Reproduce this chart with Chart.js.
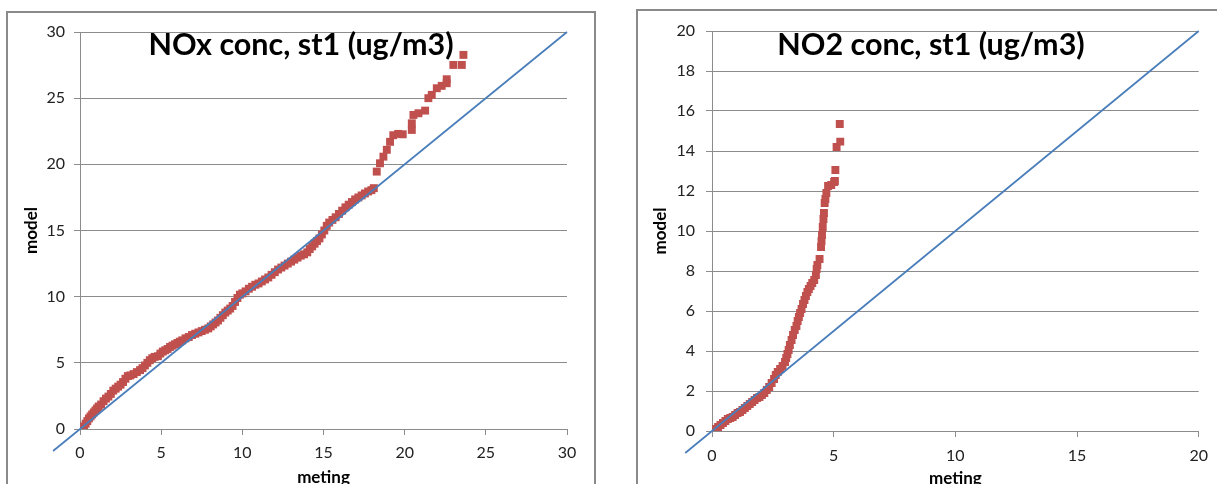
<!DOCTYPE html>
<html>
<head>
<meta charset="utf-8">
<title>NOx / NO2 st1</title>
<script src="https://cdn.jsdelivr.net/npm/chart.js@4.4.1/dist/chart.umd.min.js"></script>
<style>
  html, body { margin: 0; padding: 0; background: #fff; width: 1217px; height: 484px; overflow: hidden; }
  .frame { position: absolute; border: 2px solid #8a8a8a; box-sizing: border-box; }
  #frameNox { left: 6px; top: 11px; width: 590px; height: 530px; }
  #frameNo2 { left: 636px; top: 9px; width: 640px; height: 530px; }
  canvas { position: absolute; top: 0; }
  #noxChart { left: 0; }
  #no2Chart { left: 620px; }
  .title {
    position: absolute; top: 28px; transform: translateX(-50%);
    font-family: Lato, sans-serif; font-weight: bold; font-size: 30.5px; line-height: 30px;
    color: #000; white-space: nowrap;
  }
</style>
</head>
<body>
<div class="frame" id="frameNox"></div>
<div class="frame" id="frameNo2"></div>
<canvas id="noxChart" width="610" height="500"></canvas>
<canvas id="no2Chart" width="597" height="500"></canvas>
<div class="title" style="left:301px">NOx conc, st1 (ug/m3)</div>
<div class="title" style="left:931px">NO2 conc, st1 (ug/m3)</div>

<script>
// NOx station 1: sorted measured vs sorted modelled
const noxMeting = [0.15,0.25,0.35,0.45,0.55,0.65,0.75,0.85,0.95,1.05,1.15,1.3,1.45,1.6,1.75,1.9,2.05,2.2,2.35,2.5,
  2.65,2.8,2.95,3.1,3.3,3.5,3.7,3.85,4.0,4.15,4.3,4.45,4.6,4.8,4.95,5.1,5.25,5.4,5.55,5.7,
  5.85,6.0,6.15,6.3,6.5,6.7,6.9,7.1,7.3,7.5,7.7,7.9,8.05,8.2,8.35,8.5,8.65,8.8,8.95,9.1,
  9.25,9.4,9.55,9.7,9.85,10.0,10.2,10.4,10.6,10.8,11.0,11.2,11.4,11.6,11.8,12.0,12.2,12.4,12.6,12.8,
  13.0,13.2,13.4,13.6,13.8,14.0,14.15,14.3,14.45,14.6,14.75,14.9,15.05,15.2,15.35,15.55,15.75,15.95,16.15,16.35,
  16.55,16.75,16.95,17.15,17.35,17.55,17.75,17.95,18.1,
  18.28,18.48,18.69,18.9,19.1,19.3,19.6,19.88,20.44,20.44,20.54,20.85,21.26,21.46,21.67,21.98,22.28,22.59,22.59,23.0,
  23.52,23.62];
const noxModel = [0.05,0.2,0.4,0.6,0.8,0.95,1.1,1.25,1.4,1.55,1.7,1.85,2.1,2.3,2.45,2.65,2.9,3.05,3.2,3.35,
  3.55,3.8,4.0,4.05,4.15,4.3,4.45,4.6,4.8,5.0,5.2,5.35,5.45,5.5,5.7,5.85,5.95,6.05,6.2,6.3,
  6.4,6.5,6.6,6.7,6.85,6.95,7.1,7.2,7.3,7.4,7.5,7.6,7.75,7.9,8.05,8.2,8.4,8.6,8.8,8.95,
  9.1,9.3,9.6,9.9,10.15,10.25,10.4,10.6,10.75,10.9,11.0,11.15,11.3,11.45,11.65,11.85,12.05,12.2,12.35,12.5,
  12.65,12.8,12.95,13.1,13.2,13.35,13.6,13.8,14.0,14.2,14.4,14.7,15.0,15.35,15.6,15.8,16.0,16.25,16.5,16.75,
  16.95,17.15,17.35,17.5,17.65,17.8,17.95,18.05,18.2,
  19.45,20.08,20.58,21.1,21.7,22.2,22.3,22.27,22.6,23.1,23.73,23.86,24.06,25.0,25.25,25.75,25.93,26.13,26.43,27.51,
  27.51,28.27];

// NO2 station 1
const no2Meting = [0.05,0.15,0.25,0.35,0.45,0.55,0.65,0.75,0.85,0.95,1.05,1.15,1.25,1.35,1.45,1.55,1.65,1.75,1.85,1.95,
  2.05,2.15,2.25,2.35,2.45,2.55,2.62,2.7,2.8,2.9,3.0,3.05,3.1,3.15,3.2,3.27,3.33,3.4,3.47,3.52,
  3.57,3.62,3.68,3.74,3.8,3.86,3.92,3.98,4.05,4.12,4.2,4.27,4.3,4.33,4.42,4.48,4.5,4.52,4.55,4.58,
  4.6,4.63,4.66,4.7,4.77,4.9,5.02,5.05,5.07,5.12,5.27,5.25];
const no2Model = [0.05,0.1,0.2,0.3,0.4,0.5,0.6,0.65,0.7,0.8,0.9,0.95,1.05,1.15,1.25,1.35,1.45,1.55,1.65,1.7,
  1.8,1.9,2.05,2.2,2.4,2.6,2.8,2.95,3.1,3.25,3.45,3.65,3.85,4.05,4.3,4.55,4.8,5.05,5.25,5.5,
  5.7,5.9,6.1,6.35,6.55,6.75,6.95,7.1,7.25,7.4,7.55,7.8,8.1,8.3,8.6,9.2,9.5,9.8,10.2,10.6,
  10.9,11.4,11.6,11.9,12.25,12.3,12.45,12.5,13.05,14.2,14.47,15.35];

// 1:1 reference lines (start below the origin, as in the sheet)
const noxDiagonal = [-1.66, 30];
const no2Diagonal = [-1.1, 20];

// tick labels
const noxTicks = [0, 5, 10, 15, 20, 25, 30];
const no2XTicks = [0, 5, 10, 15, 20];
const no2YTicks = [0, 2, 4, 6, 8, 10, 12, 14, 16, 18, 20];

const gridColor = '#8c8c8c';
const tickFont = { family: 'Lato', size: 16 };
const axisTitleFont = { family: 'Lato', size: 17, weight: 'bold' };

function toPoints(xs, ys) {
    return xs.map((x, i) => ({ x: x, y: ys[i] }));
}

// Builds one scatter chart with a fixed plot rectangle (canvas pixels)
function buildChart(canvasId, meting, model, diagonal, xTicks, yTicks, area) {
    const canvas = document.getElementById(canvasId);
    const w = canvas.width, h = canvas.height;

    return new Chart(canvas.getContext('2d'), {
        type: 'scatter',
        data: {
            datasets: [
                {
                    data: diagonal.map(v => ({ x: v, y: v })),
                    showLine: true,
                    borderColor: '#4a7ebb',
                    borderWidth: 1.75,
                    pointRadius: 0,
                    clip: false
                },
                {
                    data: toPoints(meting, model),
                    pointStyle: 'rect',
                    pointRadius: 5.6,
                    pointBorderWidth: 0,
                    backgroundColor: '#c0504d',
                    borderColor: '#c0504d'
                }
            ]
        },
        options: {
            responsive: false,
            animation: false,
            events: [],
            layout: { padding: { left: 0, top: area.top, right: w - area.right, bottom: 0 } },
            plugins: { legend: { display: false }, tooltip: { enabled: false } },
            scales: {
                x: {
                    type: 'linear',
                    min: xTicks[0],
                    max: xTicks[xTicks.length - 1],
                    afterBuildTicks: s => { s.ticks = xTicks.map(v => ({ value: v })); },
                    afterFit: s => { s.height = h - area.bottom; },
                    grid: { drawOnChartArea: false, drawTicks: true, tickLength: 6, color: gridColor },
                    border: { color: gridColor, width: 1 },
                    ticks: { font: tickFont, color: '#222', padding: area.xPad, maxRotation: 0 },
                    title: { display: true, text: 'meting', font: axisTitleFont, color: '#000',
                             padding: { top: 0, bottom: area.xTitle } }
                },
                y: {
                    type: 'linear',
                    min: yTicks[0],
                    max: yTicks[yTicks.length - 1],
                    afterBuildTicks: s => { s.ticks = yTicks.map(v => ({ value: v })); },
                    afterFit: s => { s.width = area.left; },
                    grid: { drawOnChartArea: true, drawTicks: true, tickLength: 6, color: gridColor },
                    border: { color: gridColor, width: 1 },
                    ticks: { font: tickFont, color: '#222', padding: area.yPad },
                    title: { display: true, text: 'model', font: axisTitleFont, color: '#000',
                             padding: { top: area.yTitle, bottom: 0 } }
                }
            }
        }
    });
}

buildChart('noxChart', noxMeting, noxModel, noxDiagonal, noxTicks, noxTicks,
    { left: 80, top: 32, right: 567, bottom: 429, xPad: 8, yPad: 9, xTitle: 12, yTitle: 21 });
buildChart('no2Chart', no2Meting, no2Model, no2Diagonal, no2XTicks, no2YTicks,
    { left: 92, top: 31, right: 580, bottom: 431, xPad: 9, yPad: 11, xTitle: 11, yTitle: 30 });
</script>
</body>
</html>
